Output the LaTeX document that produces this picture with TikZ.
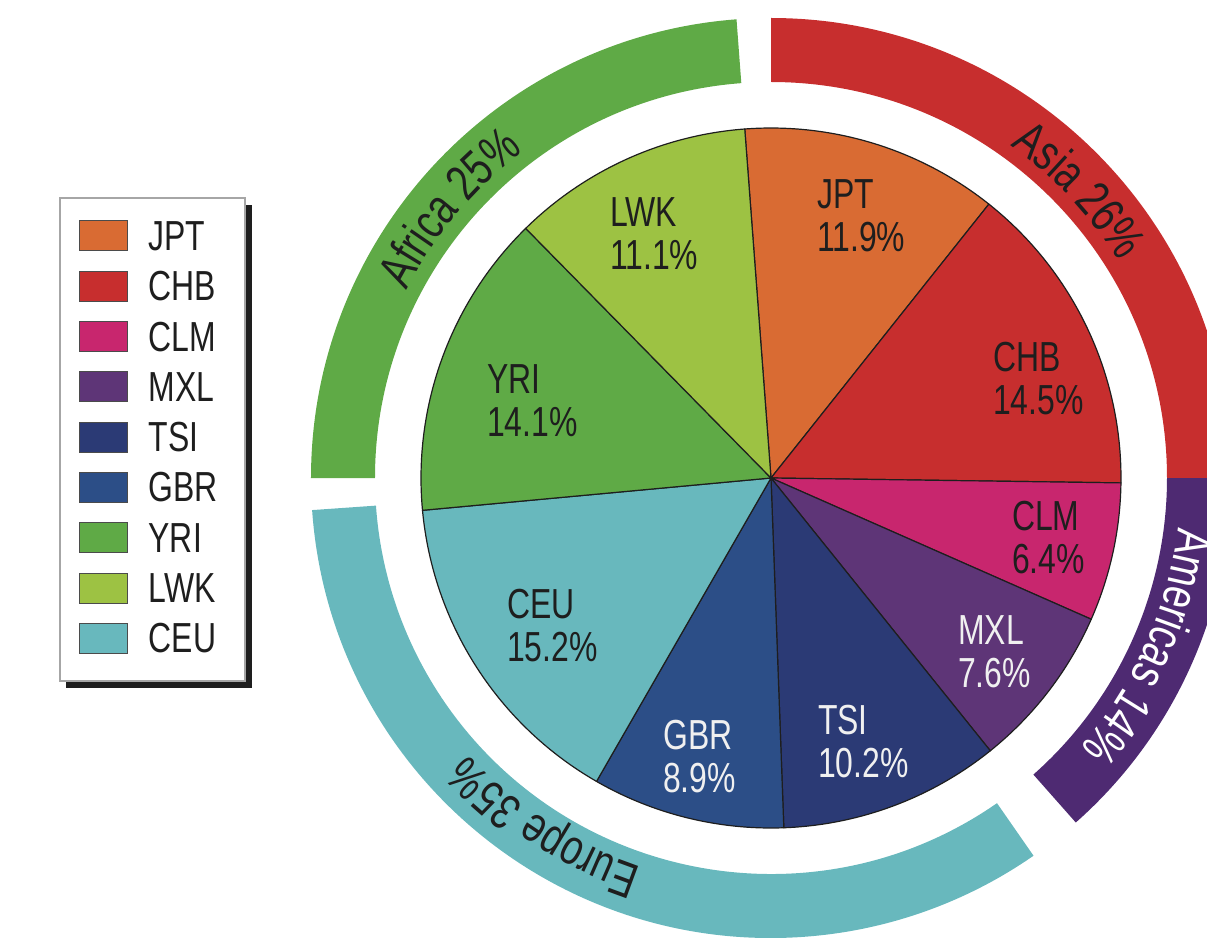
\documentclass[tikz,border=0pt]{standalone}
\usepackage{fontspec}
\setmainfont{Liberation Sans}[FakeStretch=0.76]
\usetikzlibrary{positioning,decorations.text}

% wedge and ring colours
\definecolor{jptcol}{HTML}{D96B33}
\definecolor{chbcol}{HTML}{C72E2E}
\definecolor{clmcol}{HTML}{C8266E}
\definecolor{mxlcol}{HTML}{5E3577}
\definecolor{tsicol}{HTML}{2B3A75}
\definecolor{gbrcol}{HTML}{2C4E87}
\definecolor{yricol}{HTML}{5FAA46}
\definecolor{lwkcol}{HTML}{9DC243}
\definecolor{ceucol}{HTML}{68B8BD}
\definecolor{amcol}{HTML}{4E2A72}
\definecolor{inkcol}{HTML}{1E1E1E}

\tikzset{
  slice/.style={
    % thin dark border round every wedge
    draw=inkcol, line width=1.2pt, line join=round},
  lbl/.style={
    % two-line label inside a wedge
    anchor=west, inner sep=0pt, align=left,
    font=\fontsize{42}{43}\selectfont, text=inkcol},
  lblw/.style={lbl, text=white!94!black},
  swatch/.style={
    % small coloured box of the legend
    draw=inkcol!80, line width=1pt,
    minimum width=48pt, minimum height=30pt, inner sep=0pt},
  legtext/.style={inner sep=0pt, font=\fontsize{42}{43}\selectfont, text=inkcol}}

\newcommand{\ringfont}{\fontsize{50}{50}\selectfont}

\begin{document}
\begin{tikzpicture}[x=1pt,y=1pt]
	\useasboundingbox (-771,-459) rectangle (436,478);
	\clip (-771,-459) rectangle (436,478);
	\coordinate (o) at (0,0);
	% Outer ring of regions
	\foreach \a/\b/\c in {90/0/chbcol, 0/-48.5/amcol, -55.2/-176/ceucol, 180/94.3/yricol}
		\fill[\c] (\a:396) arc[start angle=\a, end angle=\b, radius=396]
			-- (\b:460) arc[start angle=\b, end angle=\a, radius=460] -- cycle;
	% Ring texts
	\path[decorate, decoration={text along path, text align=center, text color=inkcol,
		text={|\ringfont|Asia 26{\%}}}] (83:410) arc[start angle=83, end angle=3, radius=410];
	\path[decorate, decoration={text along path, text align=center, text color=white,
		text={|\ringfont|Americas 14{\%}}}] (16:410) arc[start angle=16, end angle=-64, radius=410];
	\path[decorate, decoration={text along path, text align=center, text color=inkcol,
		text={|\ringfont|Europe 35{\%}}}] (-83:410) arc[start angle=-83, end angle=-163, radius=410];
	\path[decorate, decoration={text along path, text align=center, text color=inkcol,
		text={|\ringfont|Africa 25{\%}}}] (180:410) arc[start angle=180, end angle=100, radius=410];
	% Wedges of the pie
	\foreach \a/\b/\c in {94.3/51.5/jptcol, 51.5/-0.8/chbcol, -0.8/-23.8/clmcol,
		-23.8/-51.2/mxlcol, -51.2/-87.9/tsicol, -87.9/-119.9/gbrcol,
		-119.9/-174.7/ceucol, -174.7/-225.5/yricol, -225.5/-265.7/lwkcol}
		\filldraw[slice, fill=\c] (o) -- (\a:350) arc[start angle=\a, end angle=\b, radius=350] -- cycle;
	% Wedge labels
	\node[lbl] (jpt) at (46,262) {JPT\\11.9\%};
	\node[lbl] (chb) at (222,99) {CHB\\14.5\%};
	\node[lbl] (clm) at (241,-60) {CLM\\6.4\%};
	\node[lblw] (mxl) at (187,-174) {MXL\\7.6\%};
	\node[lblw] (tsi) at (47,-264) {TSI\\10.2\%};
	\node[lblw] (gbr) at (-108,-279) {GBR\\8.9\%};
	\node[lbl] (ceu) at (-264,-148) {CEU\\15.2\%};
	\node[lbl] (yri) at (-284,77) {YRI\\14.1\%};
	\node[lbl] (lwk) at (-161,244) {LWK\\11.1\%};
	% Legend box with its shadow
	\fill[inkcol] (-705,273) rectangle (-519,-210);
	\filldraw[fill=white, draw=black!35, line width=2.5pt] (-711,280) rectangle (-526,-203);
	\foreach \n/\c [count=\i from 0] in {JPT/jptcol, CHB/chbcol, CLM/clmcol, MXL/mxlcol,
		TSI/tsicol, GBR/gbrcol, YRI/yricol, LWK/lwkcol, CEU/ceucol} {
		\node[swatch, fill=\c] (sw\i) at (-667,242-50.3*\i) {};
		\node[legtext, right=20pt of sw\i] (lg\i) {\n};
	}
\end{tikzpicture}
\end{document}
